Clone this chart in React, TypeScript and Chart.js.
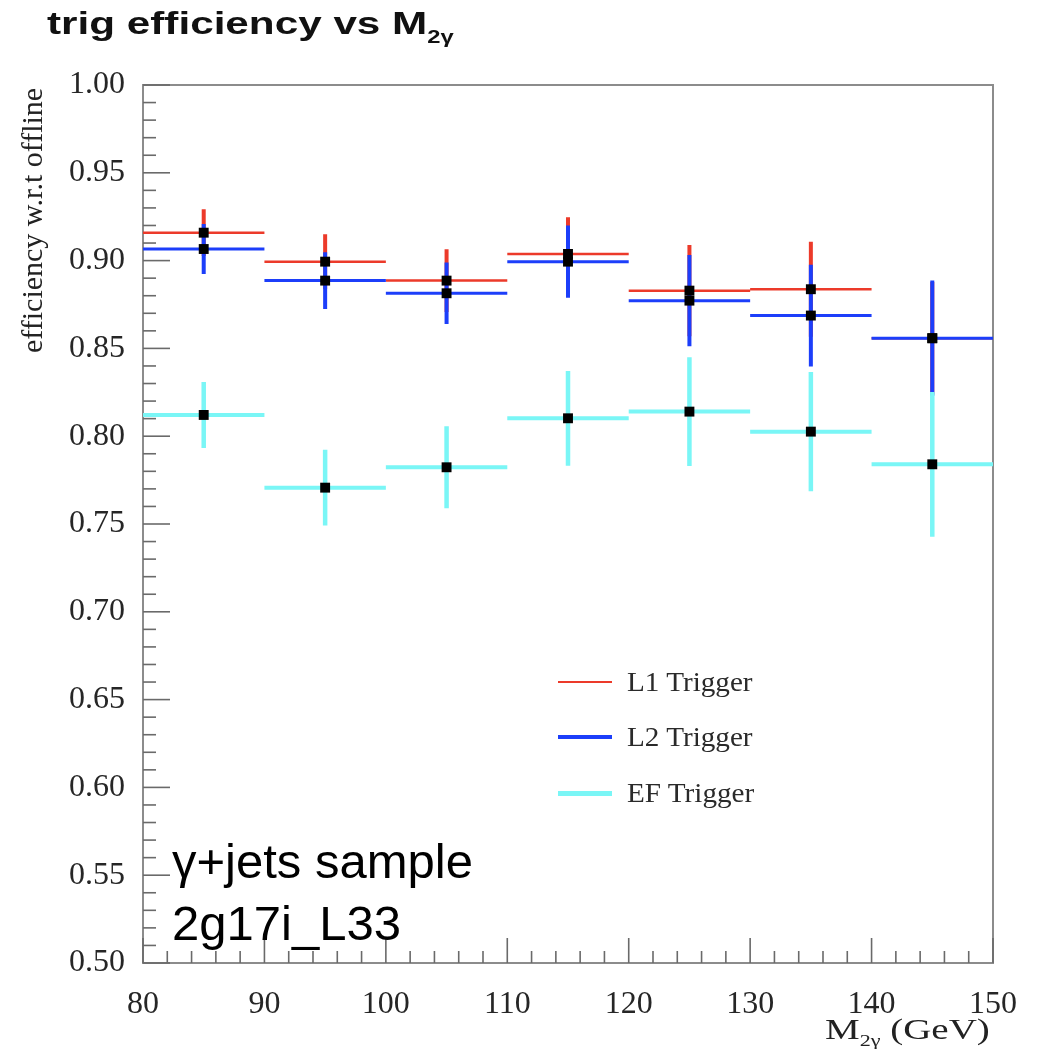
import React, { useEffect, useRef } from "react";
import { Chart, registerables } from "chart.js";

Chart.register(...registerables);

// ---- data ----
const binEdges = [80, 90, 100, 110, 120, 130, 140, 150];
const l1Values = [0.9159, 0.8994, 0.8886, 0.9038, 0.8829, 0.8837, 0.8558];
const l1Errors = [0.0133, 0.0156, 0.0178, 0.0209, 0.026, 0.027, 0.032];
const l2Values = [0.9066, 0.8886, 0.8814, 0.8994, 0.8772, 0.8687, 0.8558];
const l2Errors = [0.0142, 0.0162, 0.0175, 0.0206, 0.026, 0.029, 0.0328];
const efValues = [0.8121, 0.7707, 0.7823, 0.8102, 0.814, 0.8026, 0.784];
const efErrors = [0.0188, 0.0216, 0.0233, 0.027, 0.031, 0.034, 0.0412];
const legendLabels = ["L1 Trigger", "L2 Trigger", "EF Trigger"];
const yTickMin = 0.5;
const yTickMax = 1.0;
const xTickMin = 80;
const xTickMax = 150;

const RED = "rgb(236,58,42)";
const BLUE = "rgb(28,62,250)";
const CYAN = "rgb(122,246,246)";

type Pt = { x: number; y: number | null };

function horizontalSegments(values: number[]): Pt[] {
  const out: Pt[] = [];
  values.forEach((v, i) => {
    out.push({ x: binEdges[i], y: v });
    out.push({ x: binEdges[i + 1], y: v });
    out.push({ x: binEdges[i + 1], y: null });
  });
  return out;
}

function verticalSegments(values: number[], errs: number[]): Pt[] {
  const out: Pt[] = [];
  values.forEach((v, i) => {
    const c = (binEdges[i] + binEdges[i + 1]) / 2;
    out.push({ x: c, y: v - errs[i] });
    out.push({ x: c, y: v + errs[i] });
    out.push({ x: c, y: null });
  });
  return out;
}

function centers(values: number[]): Pt[] {
  return values.map((v, i) => ({ x: (binEdges[i] + binEdges[i + 1]) / 2, y: v }));
}

const frameTicks = {
  id: "frameTicks",
  beforeDatasetsDraw(chart: any) {
    const { ctx, chartArea, scales } = chart;
    const { left, right, top, bottom } = chartArea;
    const x = scales.x;
    const y = scales.y;
    ctx.save();
    ctx.strokeStyle = "#8c8c8c";
    ctx.lineWidth = 2;
    ctx.strokeRect(left, top, right - left, bottom - top);
    ctx.strokeStyle = "#6a6a6a";
    ctx.lineWidth = 1.6;
    const nY = Math.round((yTickMax - yTickMin) / 0.01);
    for (let i = 0; i <= nY; i++) {
      const py = y.getPixelForValue(yTickMin + i * 0.01);
      const len = i % 5 === 0 ? 27 : 13;
      ctx.beginPath();
      ctx.moveTo(left, py);
      ctx.lineTo(left + len, py);
      ctx.stroke();
    }
    const nX = Math.round((xTickMax - xTickMin) / 2);
    for (let i = 0; i <= nX; i++) {
      const px = x.getPixelForValue(xTickMin + i * 2);
      const len = i % 5 === 0 ? 25 : 12;
      ctx.beginPath();
      ctx.moveTo(px, bottom);
      ctx.lineTo(px, bottom - len);
      ctx.stroke();
    }
    ctx.restore();
  },
};

export default function App() {
  const canvasRef = useRef<HTMLCanvasElement | null>(null);

  useEffect(() => {
    document.body.style.margin = "0";
    const canvas = canvasRef.current;
    if (!canvas) return;
    const lineDs = (label: string, data: Pt[], color: string, width: number, order: number) => ({
      type: "line" as const,
      label,
      data,
      borderColor: color,
      backgroundColor: color,
      borderWidth: width,
      pointRadius: 0,
      spanGaps: false,
      tension: 0,
      fill: false,
      order,
      borderCapStyle: "butt" as const,
    });
    const markerData = [...centers(l1Values), ...centers(l2Values), ...centers(efValues)];
    const chart = new Chart(canvas, {
      type: "scatter",
      data: {
        datasets: [
          {
            type: "scatter",
            label: "markers",
            data: markerData,
            pointStyle: "rect",
            pointRadius: 7,
            pointBackgroundColor: "#000",
            pointBorderWidth: 0,
            order: 0,
          } as any,
          lineDs("EF h", horizontalSegments(efValues), CYAN, 4, 1),
          lineDs("EF v", verticalSegments(efValues, efErrors), CYAN, 4.5, 1),
          lineDs("L2 h", horizontalSegments(l2Values), BLUE, 3, 2),
          lineDs("L2 v", verticalSegments(l2Values, l2Errors), BLUE, 4, 2),
          lineDs("L1 h", horizontalSegments(l1Values), RED, 2.5, 3),
          lineDs("L1 v", verticalSegments(l1Values, l1Errors), RED, 4, 3),
        ] as any,
      },
      options: {
        animation: false,
        responsive: false,
        events: [],
        layout: { padding: { top: 85, right: 46, left: 0, bottom: 0 } },
        plugins: { legend: { display: false }, tooltip: { enabled: false }, title: { display: false } },
        scales: {
          x: {
            type: "linear",
            min: xTickMin,
            max: xTickMax,
            grid: { display: false },
            border: { display: false },
            ticks: {
              stepSize: 10,
              padding: 14,
              color: "#262626",
              font: { family: "'Liberation Serif', 'Times New Roman', serif", size: 32 },
              callback: (v: any) => String(v),
            },
            afterFit: (s: any) => {
              s.height = 86;
            },
          },
          y: {
            type: "linear",
            min: yTickMin,
            max: yTickMax,
            grid: { display: false },
            border: { display: false },
            ticks: {
              stepSize: 0.05,
              padding: 10,
              color: "#262626",
              font: { family: "'Liberation Serif', 'Times New Roman', serif", size: 32 },
              callback: (v: any) => Number(v).toFixed(2),
            },
            afterFit: (s: any) => {
              s.width = 143;
            },
          },
        },
      } as any,
      plugins: [frameTicks],
    });
    return () => chart.destroy();
  }, []);

  const serif = "'Liberation Serif', 'Times New Roman', serif";
  const sans = "'Liberation Sans', Arial, sans-serif";
  const legendColors = [RED, BLUE, CYAN];
  const legendWidths = [2.5, 4, 5];
  const legendY = [682, 737, 793];

  return (
    <div style={{ position: "relative", width: 1039, height: 1049, background: "#fff", overflow: "hidden" }}>
      <canvas ref={canvasRef} width={1039} height={1049} style={{ position: "absolute", left: 0, top: 0, width: 1039, height: 1049 }} />
      {/* title */}
      <div
        style={{
          position: "absolute",
          left: 47,
          top: 7,
          fontFamily: sans,
          fontWeight: "bold",
          fontSize: 32,
          lineHeight: "32px",
          whiteSpace: "nowrap",
          color: "#111",
          transform: "scaleX(1.32)",
          transformOrigin: "0 0",
        }}
      >
        trig efficiency vs M<sub style={{ fontSize: 18, verticalAlign: "-9px", lineHeight: 0 }}>2γ</sub>
      </div>
      {/* y axis title */}
      <div
        style={{
          position: "absolute",
          left: 17,
          top: 353,
          fontFamily: serif,
          fontSize: 30,
          lineHeight: "30px",
          whiteSpace: "nowrap",
          color: "#222",
          transform: "rotate(-90deg)",
          transformOrigin: "0 0",
        }}
      >
        efficiency w.r.t offline
      </div>
      {/* x axis title */}
      <div
        style={{
          position: "absolute",
          right: 1039 - 990,
          top: 1014,
          fontFamily: serif,
          fontSize: 30,
          lineHeight: "30px",
          whiteSpace: "nowrap",
          color: "#222",
          transform: "scaleX(1.3)",
          transformOrigin: "100% 0",
        }}
      >
        M<sub style={{ fontSize: 17, verticalAlign: "-7px", lineHeight: 0 }}>2γ</sub> (GeV)
      </div>
      {/* legend */}
      {legendLabels.map((lab, i) => (
        <React.Fragment key={lab}>
          <div
            style={{
              position: "absolute",
              left: 558,
              width: 54,
              top: legendY[i] - legendWidths[i] / 2,
              height: legendWidths[i],
              background: legendColors[i],
            }}
          />
          <div
            style={{
              position: "absolute",
              left: 627,
              top: legendY[i] - 15,
              height: 30,
              fontFamily: serif,
              fontSize: 27,
              lineHeight: "30px",
              whiteSpace: "nowrap",
              color: "#2a2a2a",
              transform: "scaleX(1.08)",
              transformOrigin: "0 0",
            }}
          >
            {lab}
          </div>
        </React.Fragment>
      ))}
      {/* annotation */}
      <div
        style={{
          position: "absolute",
          left: 172,
          top: 830,
          fontFamily: sans,
          fontSize: 49,
          lineHeight: "62px",
          whiteSpace: "nowrap",
          color: "#000",
        }}
      >
        γ+jets sample
        <br />
        2g17i_L33
      </div>
    </div>
  );
}
